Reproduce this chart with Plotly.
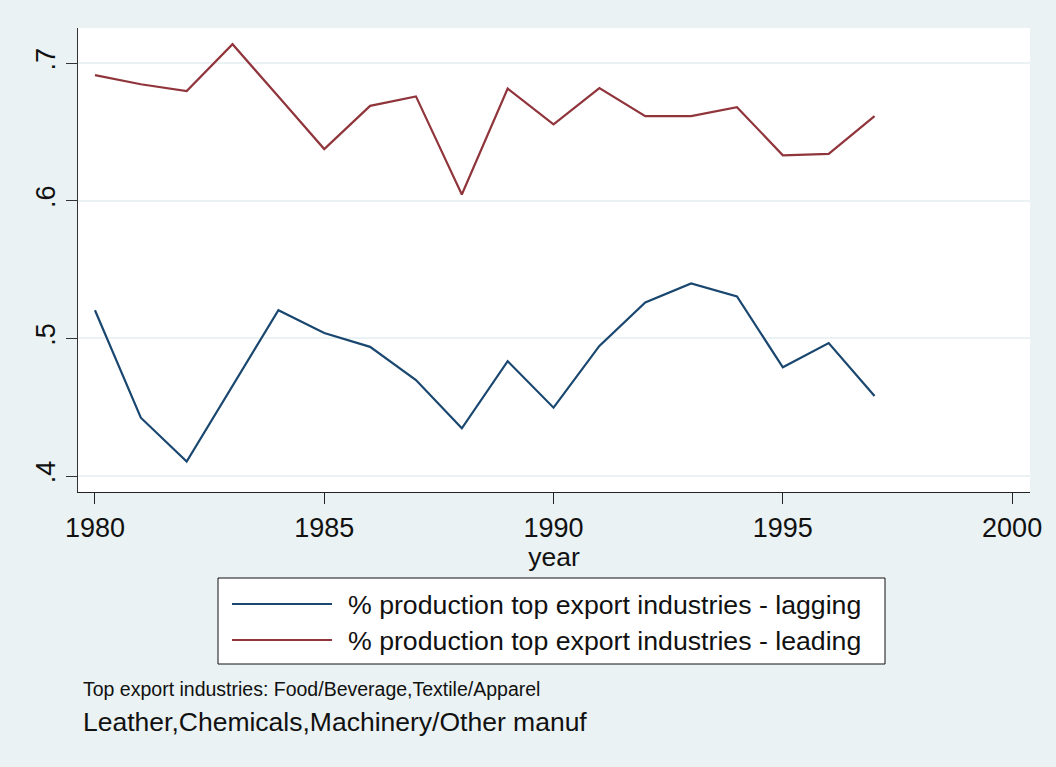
import plotly.graph_objects as go

years = list(range(1980, 1998))
lagging = [0.5205, 0.4424, 0.4105, 0.466, 0.5205, 0.504, 0.4939, 0.4698, 0.4347,
           0.4835, 0.4497, 0.4946, 0.5261, 0.5399, 0.5305, 0.479, 0.4966, 0.4582]
leading = [0.6914, 0.6847, 0.6798, 0.7138, 0.6758, 0.6376, 0.669, 0.6759, 0.6046,
           0.6816, 0.6556, 0.6819, 0.6616, 0.6616, 0.6681, 0.6331, 0.6341, 0.6616]
series_names = ["% production top export industries - lagging",
                "% production top export industries - leading"]
x_ticks = [1980, 1985, 1990, 1995, 2000]
y_ticks = [0.4, 0.5, 0.6, 0.7]
y_ticklabels = [".4", ".5", ".6", ".7"]
note_lines = ["Top export industries: Food/Beverage,Textile/Apparel",
              "Leather,Chemicals,Machinery/Other manuf"]

BG = "#EAF2F3"
NAVY = "#1a476f"
MAROON = "#90353b"
FONT = "Liberation Sans, Arial, sans-serif"
TXT = "#111111"

W, H = 1056, 767
L, R, T, B = 78, 1030, 28, 492

def px(x):
    return (x - L) / (R - L)

def py(y):
    return (B - y) / (B - T)

fig = go.Figure()
fig.add_trace(go.Scatter(x=years, y=lagging, mode="lines", name=series_names[0],
                         line=dict(color=NAVY, width=2.2), showlegend=False))
fig.add_trace(go.Scatter(x=years, y=leading, mode="lines", name=series_names[1],
                         line=dict(color=MAROON, width=2.2), showlegend=False))

shapes = [
    dict(type="rect", xref="paper", yref="paper", x0=px(218), x1=px(885),
         y0=py(664), y1=py(578), line=dict(color="#111111", width=1), fillcolor="white",
         layer="below"),
    dict(type="line", xref="paper", yref="paper", x0=px(232), x1=px(332),
         y0=py(604), y1=py(604), line=dict(color=NAVY, width=2.2)),
    dict(type="line", xref="paper", yref="paper", x0=px(232), x1=px(332),
         y0=py(640), y1=py(640), line=dict(color=MAROON, width=2.2)),
]
annotations = [
    dict(x=px(346), y=py(605), xref="paper", yref="paper", text=series_names[0],
         showarrow=False, xanchor="left", yanchor="middle",
         font=dict(family=FONT, size=26.7, color=TXT)),
    dict(x=px(346), y=py(641), xref="paper", yref="paper", text=series_names[1],
         showarrow=False, xanchor="left", yanchor="middle",
         font=dict(family=FONT, size=26.7, color=TXT)),
    dict(x=px(81), y=py(689), xref="paper", yref="paper", text=note_lines[0],
         showarrow=False, xanchor="left", yanchor="middle",
         font=dict(family=FONT, size=19.5, color=TXT)),
    dict(x=px(81), y=py(722), xref="paper", yref="paper", text=note_lines[1],
         showarrow=False, xanchor="left", yanchor="middle",
         font=dict(family=FONT, size=26.5, color=TXT)),
]

fig.update_layout(
    width=W, height=H,
    margin=dict(l=L, r=W - R, t=T, b=H - B),
    paper_bgcolor=BG, plot_bgcolor="white",
    font=dict(family=FONT, color=TXT),
    shapes=shapes, annotations=annotations,
    showlegend=False,
)
fig.update_xaxes(
    range=[1979.63, 2000.39], tickvals=x_ticks, ticktext=[str(v) for v in x_ticks],
    showgrid=False, zeroline=False, showline=True, linecolor="#222222", linewidth=1.2,
    ticks="outside", ticklen=11, tickcolor="#222222", tickwidth=1.2,
    tickfont=dict(size=27, family=FONT, color=TXT),
    title=dict(text="year", font=dict(size=26.5, family=FONT, color=TXT), standoff=0),
)
fig.update_yaxes(
    range=[0.3884, 0.7256], tickvals=y_ticks, ticktext=y_ticklabels, tickangle=-90,
    showgrid=True, gridcolor=BG, gridwidth=2, zeroline=False,
    showline=True, linecolor="#333333", linewidth=1.2,
    ticks="outside", ticklen=11, tickcolor="#333333", tickwidth=1.2,
    tickfont=dict(size=27, family=FONT, color=TXT),
)

fig.write_html(
    "out.html",
    config={"displayModeBar": False},
    post_script="document.body.style.margin='0';document.body.style.background='#EAF2F3';",
)
